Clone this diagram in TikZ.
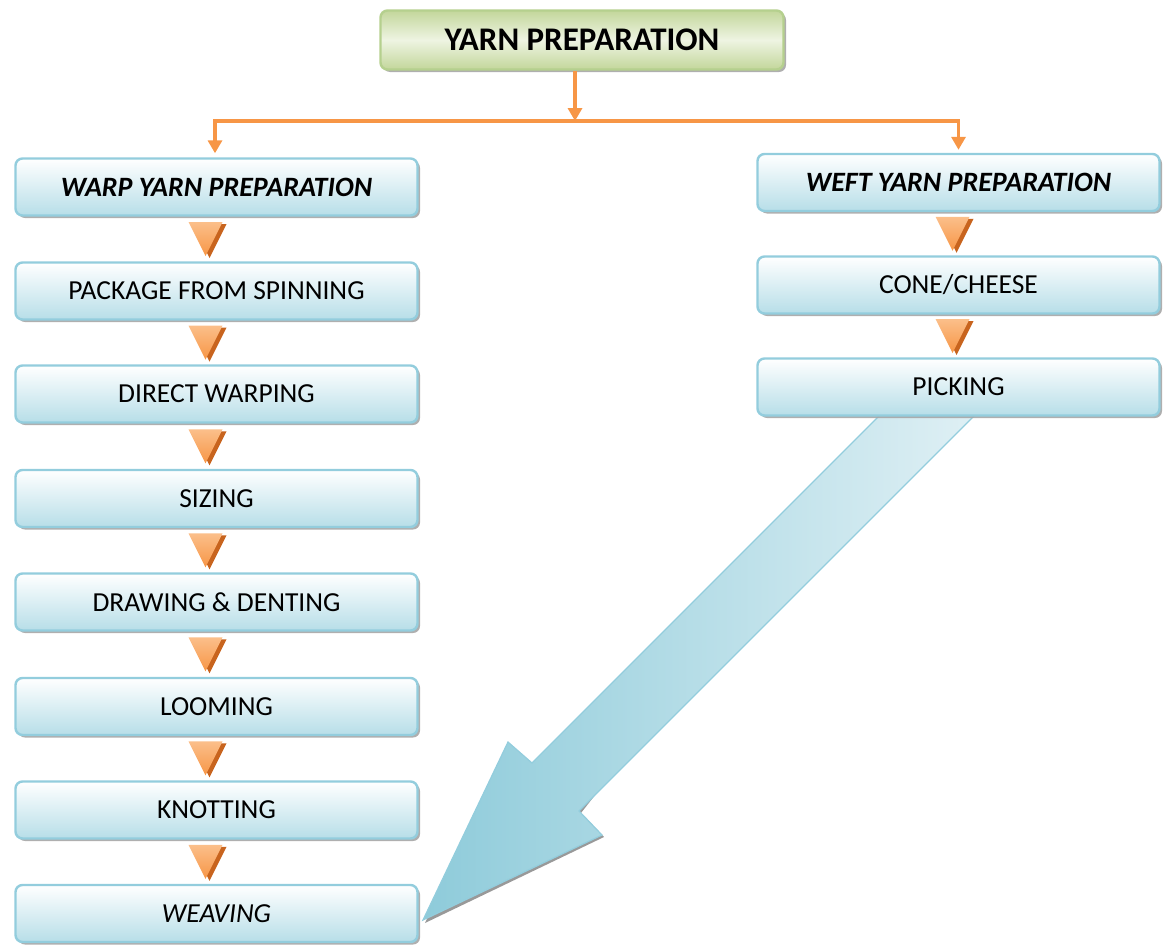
\documentclass[tikz,border=0pt]{standalone}
\usepackage{fontspec}
\setmainfont{Carlito}
\usetikzlibrary{calc,shadows,arrows.meta}
\definecolor{oline}{HTML}{F79646}
\definecolor{odark}{HTML}{C8641E}
\definecolor{olight}{HTML}{FBBF8A}
\definecolor{bborder}{HTML}{93CDDD}
\definecolor{bbottom}{HTML}{B7DEE8}
\definecolor{gborder}{HTML}{B5D08E}
\definecolor{gdark}{HTML}{C3D69B}
\definecolor{glight}{HTML}{EEF4E2}
\definecolor{adark}{HTML}{8ECBDA}
\definecolor{alight}{HTML}{E4F2F6}
\tikzset{
  stepbox/.style={draw=bborder, line width=2.4pt, rounded corners=7pt,
    top color=white, bottom color=bbottom,
    minimum width=402pt, minimum height=57pt, inner sep=0pt,
    font=\fontsize{27.5}{32}\selectfont,
    drop shadow={shadow xshift=2.5pt, shadow yshift=-2.5pt, fill=gray!70, opacity=0.9}},
  headbox/.style={draw=gborder, line width=2.4pt, rounded corners=7pt,
    top color=gdark, bottom color=gdark, middle color=glight,
    minimum width=403pt, minimum height=59pt, inner sep=0pt,
    font=\fontsize{33}{38}\selectfont\bfseries,
    drop shadow={shadow xshift=2.5pt, shadow yshift=-2.5pt, fill=gray!70, opacity=0.9}},
  conn/.style={draw=oline, line width=3.5pt, -{Triangle[length=13pt,width=14pt]}}
}
\newcommand\downtri[3]{%
  \coordinate (m) at ($(#1.south)!0.5!(#2.north)+(#3,0)$);
  \fill[odark] ($(m)+(-13,-15)$) -- ($(m)+(21,-15)$) -- ($(m)+(4,19)$) -- cycle;
  \shade[top color=olight, bottom color=oline] ($(m)+(-17,-17)$) -- ($(m)+(17,-17)$) -- ($(m)+(0,17)$) -- cycle;
}
\begin{document}
\begin{tikzpicture}[x=1pt,y=-1pt]
\useasboundingbox (0,0) rectangle (1164,945);
% big arrow
\fill[gray!80] (425,923) -- (510,744) -- (534,765) -- (1012,382) -- (919,382) -- (581,813) -- (604,837) -- cycle;
\shade[left color=adark, right color=alight, draw=bborder, line width=1.2pt]
  (423,920) -- (508,742) -- (532,763) -- (915,380) -- (1010,380) -- (579,811) -- (602,835) -- cycle;
% header
\node[headbox] (top) at (582,40) {YARN PREPARATION};
% left column
\node[stepbox, font=\fontsize{28}{32}\selectfont\bfseries\itshape] (b1) at (216.5,187) {WARP YARN PREPARATION};
\node[stepbox] (b2) at (216.5,291) {PACKAGE FROM SPINNING};
\node[stepbox] (b3) at (216.5,394) {DIRECT WARPING};
\node[stepbox] (b4) at (216.5,498.5) {SIZING};
\node[stepbox] (b5) at (216.5,602) {DRAWING \& DENTING};
\node[stepbox] (b6) at (216.5,706.5) {LOOMING};
\node[stepbox] (b7) at (216.5,810) {KNOTTING};
\node[stepbox, font=\fontsize{27.5}{32}\selectfont\itshape] (b8) at (216.5,913.5) {WEAVING};
% right column
\node[stepbox, font=\fontsize{28}{32}\selectfont\bfseries\itshape] (r1) at (958.5,182.5) {WEFT YARN PREPARATION};
\node[stepbox] (r2) at (958.5,285) {CONE/CHEESE};
\node[stepbox] (r3) at (958.5,387) {PICKING};
% triangles
\downtri{b1}{b2}{-11}
\downtri{b2}{b3}{-11}
\downtri{b3}{b4}{-11}
\downtri{b4}{b5}{-11}
\downtri{b5}{b6}{-11}
\downtri{b6}{b7}{-11}
\downtri{b7}{b8}{-11}
\downtri{r1}{r2}{-6}
\downtri{r2}{r3}{-6}
% orange connectors
\coordinate (j) at (575,121);
\draw[conn] (top.south -| j) -- (j);
\draw[conn] (j) -| ($(b1.north)+(-1.5,-4)$);
\draw[conn] (j) -| ($(r1.north)+(0,-3)$);
\end{tikzpicture}
\end{document}
